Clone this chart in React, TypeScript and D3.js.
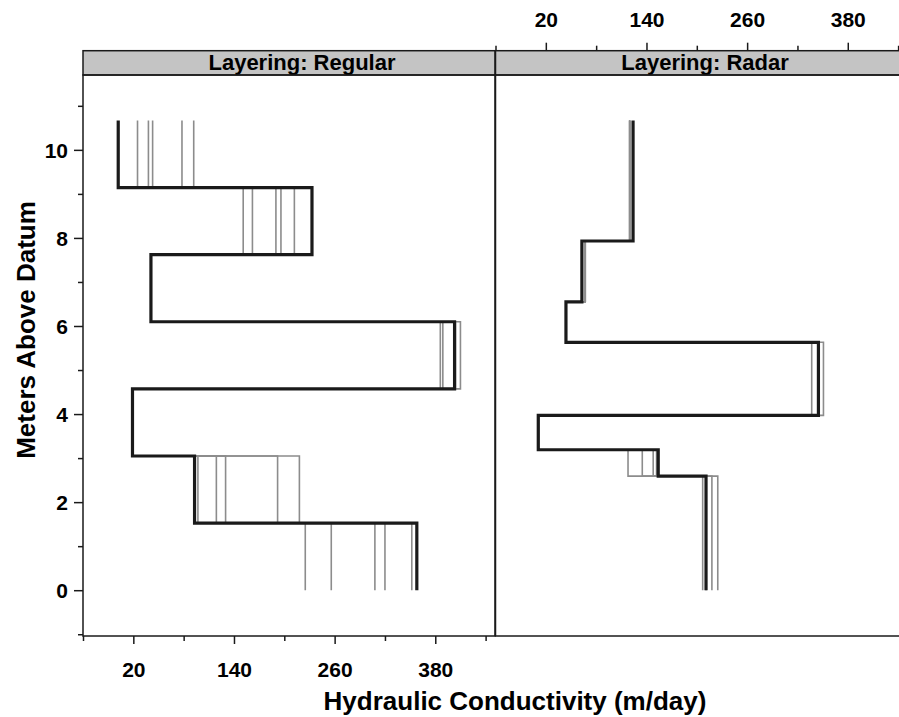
import React, { useEffect, useRef } from 'react';
import * as d3 from 'd3';

// layer boundaries (meters above datum), bottom to top
const regularDepths = [0, 1.524, 3.048, 4.572, 6.096, 7.62, 9.144, 10.668];
const radarDepths = [0, 2.59, 3.19, 3.97, 5.63, 6.55, 7.93, 10.668];

// hydraulic conductivity (m/day) per layer, bottom to top
const regularTrue = [358, 93, 19, 403, 41, 233, 2];
const regularRealizations = [
    [225, 97, 19, 386, 41, 151, 25],
    [256, 119, 19, 389, 41, 162, 38],
    [308, 130, 19, 403, 41, 190, 43],
    [320, 192, 19, 404, 41, 196, 78],
    [352, 218, 19, 410, 41, 212, 92],
];

const radarTrue = [211, 154, 11, 345, 44, 63, 124];
const radarRealizations = [
    [207, 118, 11, 337, 44, 67, 120],
    [211, 135, 11, 345, 44, 67, 120],
    [218, 148, 11, 345, 44, 67, 120],
    [225, 152, 11, 351, 44, 67, 120],
];

const panelTitles = ['Layering: Regular', 'Layering: Radar'];
const xTicks = [20, 140, 260, 380];
const xMinorTicks = [-40, 80, 200, 320, 440];
const yTicks = [0, 2, 4, 6, 8, 10];
const yMinorTicks = [-1, 1, 3, 5, 7, 9, 11];

const FONT = '"Liberation Sans", Arial, Helvetica, sans-serif';

const stepPoints = (depths: number[], values: number[]) =>
    values.flatMap((v, i) => [[v, depths[i]], [v, depths[i + 1]]] as [number, number][]);

const App = () => {
    const ref = useRef<SVGSVGElement>(null);

    useEffect(() => {
        if (!ref.current) return;
        const svg = d3.select(ref.current);
        svg.selectAll('*').remove();

        const top = 75, bottom = 636, stripTop = 50.7;
        const y = d3.scaleLinear().domain([-1.04, 11.7]).range([bottom, top]);
        const xL = d3.scaleLinear().domain([-40, 451.2]).range([83, 495]);
        const xR = d3.scaleLinear().domain([-40, 451.2]).range([495.5, 907.5]);

        const panels = [
            { x: xL, depths: regularDepths, truth: regularTrue, reals: regularRealizations, title: panelTitles[0], tx: 302 },
            { x: xR, depths: radarDepths, truth: radarTrue, reals: radarRealizations, title: panelTitles[1], tx: 705 },
        ];

        panels.forEach(p => {
            const [x0, x1] = p.x.range();
            const line = d3.line<[number, number]>()
                .x(d => p.x(d[0]))
                .y(d => y(d[1]));

            p.reals.forEach(r => {
                svg.append('path')
                    .attr('d', line(stepPoints(p.depths, r)))
                    .attr('fill', 'none')
                    .attr('stroke', '#8c8c8c')
                    .attr('stroke-width', 1.6)
                    .attr('stroke-linejoin', 'miter');
            });
            svg.append('path')
                .attr('d', line(stepPoints(p.depths, p.truth)))
                .attr('fill', 'none')
                .attr('stroke', '#1a1a1a')
                .attr('stroke-width', 3.2)
                .attr('stroke-linejoin', 'miter');

            // strip
            svg.append('rect')
                .attr('x', x0).attr('y', stripTop)
                .attr('width', x1 - x0).attr('height', top - stripTop)
                .attr('fill', '#c4c4c4')
                .attr('stroke', '#1a1a1a')
                .attr('stroke-width', 1.5);
            svg.append('text')
                .attr('x', p.tx).attr('y', 70)
                .attr('text-anchor', 'middle')
                .attr('font-size', 22)
                .text(p.title);

            // panel border
            svg.append('rect')
                .attr('x', x0).attr('y', top)
                .attr('width', x1 - x0).attr('height', bottom - top)
                .attr('fill', 'none')
                .attr('stroke', '#1a1a1a')
                .attr('stroke-width', 1.5);
        });

        const styleAxis = (g: d3.Selection<SVGGElement, unknown, null, undefined>) => {
            g.select('.domain').remove();
            g.selectAll('line').attr('stroke', '#1a1a1a').attr('stroke-width', 1.5);
            g.attr('font-family', FONT).attr('font-size', 21).attr('font-weight', 'bold');
        };

        // bottom axis, left panel
        const bAxis = svg.append('g').attr('transform', `translate(0,${bottom})`);
        bAxis.append('g').call(d3.axisBottom(xL).tickValues(xTicks).tickSize(8).tickFormat(d3.format('d')))
            .call(styleAxis)
            .call(g => g.selectAll('text').attr('y', 41).attr('dy', 0).attr('fill', '#000'));
        bAxis.append('g').call(d3.axisBottom(xL).tickValues(xMinorTicks).tickSize(5).tickFormat(() => ''))
            .call(styleAxis);

        // top axis, right panel
        const tAxis = svg.append('g').attr('transform', `translate(0,${stripTop})`);
        tAxis.append('g').call(d3.axisTop(xR).tickValues(xTicks).tickSize(8).tickFormat(d3.format('d')))
            .call(styleAxis)
            .call(g => g.selectAll('text').attr('y', -24).attr('dy', 0).attr('fill', '#000'));
        tAxis.append('g').call(d3.axisTop(xR).tickValues(xMinorTicks).tickSize(5).tickFormat(() => ''))
            .call(styleAxis);

        // left axis
        const lAxis = svg.append('g').attr('transform', `translate(83,0)`);
        lAxis.append('g').call(d3.axisLeft(y).tickValues(yTicks).tickSize(9).tickPadding(6).tickFormat(d3.format('d')))
            .call(styleAxis)
            .call(g => g.selectAll('text').attr('dy', '0.35em').attr('fill', '#000'));
        lAxis.append('g').call(d3.axisLeft(y).tickValues(yMinorTicks).tickSize(5).tickFormat(() => ''))
            .call(styleAxis);

        svg.append('text')
            .attr('x', 515).attr('y', 710)
            .attr('text-anchor', 'middle')
            .attr('font-size', 26)
            .text('Hydraulic Conductivity (m/day)');

        svg.append('text')
            .attr('transform', 'translate(35,330) rotate(-90)')
            .attr('text-anchor', 'middle')
            .attr('font-size', 26)
            .text('Meters Above Datum');
    }, []);

    return (
        <svg
            ref={ref}
            width={899}
            height={717}
            fontFamily={FONT}
            fontWeight="bold"
            style={{ position: 'absolute', left: 0, top: 0, background: '#fff' }}
        />
    );
};

export default App;
